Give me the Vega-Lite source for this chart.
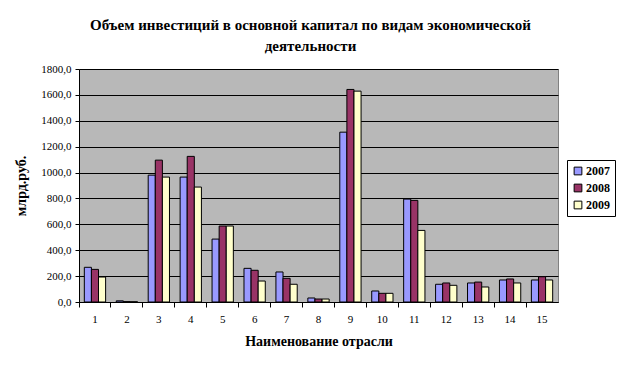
{
  "$schema": "https://vega.github.io/schema/vega-lite/v6.json",
  "width": 479,
  "height": 233,
  "autosize": {"type": "none"},
  "padding": {"left": 79, "top": 69, "right": 65, "bottom": 64},
  "background": "white",
  "title": {
    "text": ["Объем инвестиций в основной капитал по видам экономической", "деятельности"],
    "font": "Liberation Serif, Times New Roman, serif",
    "fontSize": 15,
    "fontWeight": "bold",
    "color": "black",
    "anchor": "middle",
    "dx": -8,
    "offset": 9,
    "lineHeight": 21
  },
  "data": {
    "values": [
      {"c": "1", "y": "2007", "v": 268}, {"c": "1", "y": "2008", "v": 252}, {"c": "1", "y": "2009", "v": 193},
      {"c": "2", "y": "2007", "v": 9}, {"c": "2", "y": "2008", "v": 3}, {"c": "2", "y": "2009", "v": 2},
      {"c": "3", "y": "2007", "v": 980}, {"c": "3", "y": "2008", "v": 1096}, {"c": "3", "y": "2009", "v": 965},
      {"c": "4", "y": "2007", "v": 965}, {"c": "4", "y": "2008", "v": 1125}, {"c": "4", "y": "2009", "v": 888},
      {"c": "5", "y": "2007", "v": 486}, {"c": "5", "y": "2008", "v": 587}, {"c": "5", "y": "2009", "v": 587},
      {"c": "6", "y": "2007", "v": 260}, {"c": "6", "y": "2008", "v": 245}, {"c": "6", "y": "2009", "v": 162},
      {"c": "7", "y": "2007", "v": 232}, {"c": "7", "y": "2008", "v": 183}, {"c": "7", "y": "2009", "v": 137},
      {"c": "8", "y": "2007", "v": 31}, {"c": "8", "y": "2008", "v": 23}, {"c": "8", "y": "2009", "v": 23},
      {"c": "9", "y": "2007", "v": 1312}, {"c": "9", "y": "2008", "v": 1642}, {"c": "9", "y": "2009", "v": 1629},
      {"c": "10", "y": "2007", "v": 85}, {"c": "10", "y": "2008", "v": 67}, {"c": "10", "y": "2009", "v": 67},
      {"c": "11", "y": "2007", "v": 795}, {"c": "11", "y": "2008", "v": 785}, {"c": "11", "y": "2009", "v": 553},
      {"c": "12", "y": "2007", "v": 137}, {"c": "12", "y": "2008", "v": 147}, {"c": "12", "y": "2009", "v": 129},
      {"c": "13", "y": "2007", "v": 147}, {"c": "13", "y": "2008", "v": 154}, {"c": "13", "y": "2009", "v": 116},
      {"c": "14", "y": "2007", "v": 170}, {"c": "14", "y": "2008", "v": 178}, {"c": "14", "y": "2009", "v": 147},
      {"c": "15", "y": "2007", "v": 170}, {"c": "15", "y": "2008", "v": 195}, {"c": "15", "y": "2009", "v": 170}
    ]
  },
  "mark": {"type": "bar", "stroke": "black", "strokeWidth": 1},
  "encoding": {
    "x": {
      "field": "c",
      "type": "ordinal",
      "sort": ["1","2","3","4","5","6","7","8","9","10","11","12","13","14","15"],
      "scale": {"paddingInner": 0, "paddingOuter": 0},
      "axis": {
        "title": "Наименование отрасли",
        "labelAngle": 0,
        "bandPosition": 0,
        "labelFont": "Liberation Serif, Times New Roman, serif",
        "labelFontSize": 11,
        "labelColor": "black",
        "labelPadding": 6,
        "titleFont": "Liberation Serif, Times New Roman, serif",
        "titleFontSize": 14,
        "titleFontWeight": "bold",
        "titleColor": "black",
        "titlePadding": 10,
        "domainColor": "black",
        "tickColor": "black",
        "tickSize": 5
      }
    },
    "xOffset": {
      "field": "y",
      "type": "nominal",
      "scale": {"paddingInner": 0, "paddingOuter": 0.75}
    },
    "y": {
      "field": "v",
      "type": "quantitative",
      "scale": {"domain": [0, 1800], "nice": false},
      "axis": {
        "title": "млрд.руб.",
        "values": [0, 200, 400, 600, 800, 1000, 1200, 1400, 1600, 1800],
        "labelExpr": "replace(format(datum.value, '.1f'), '.', ',')",
        "labelFont": "Liberation Serif, Times New Roman, serif",
        "labelFontSize": 11,
        "labelColor": "black",
        "labelPadding": 4,
        "titleFont": "Liberation Serif, Times New Roman, serif",
        "titleFontSize": 14,
        "titleFontWeight": "bold",
        "titleColor": "black",
        "titlePadding": 12,
        "grid": true,
        "gridColor": "black",
        "gridOpacity": 1,
        "gridWidth": 1,
        "domainColor": "black",
        "tickColor": "black",
        "tickSize": 4
      }
    },
    "color": {
      "field": "y",
      "type": "nominal",
      "scale": {"domain": ["2007", "2008", "2009"], "range": ["#9999ff", "#993366", "#ffffcc"]},
      "legend": {
        "title": null,
        "orient": "none",
        "legendX": 488,
        "legendY": 91,
        "symbolType": "square",
        "symbolSize": 60,
        "symbolStrokeColor": "black",
        "symbolStrokeWidth": 1,
        "labelFont": "Liberation Serif, Times New Roman, serif",
        "labelFontSize": 12,
        "labelFontWeight": "bold",
        "labelColor": "black",
        "rowPadding": 5,
        "labelOffset": 2,
        "padding": 5,
        "strokeColor": "black",
        "fillColor": "white"
      }
    }
  },
  "config": {
    "view": {"fill": "#b8b8b8", "stroke": "#808080", "strokeWidth": 1}
  }
}
